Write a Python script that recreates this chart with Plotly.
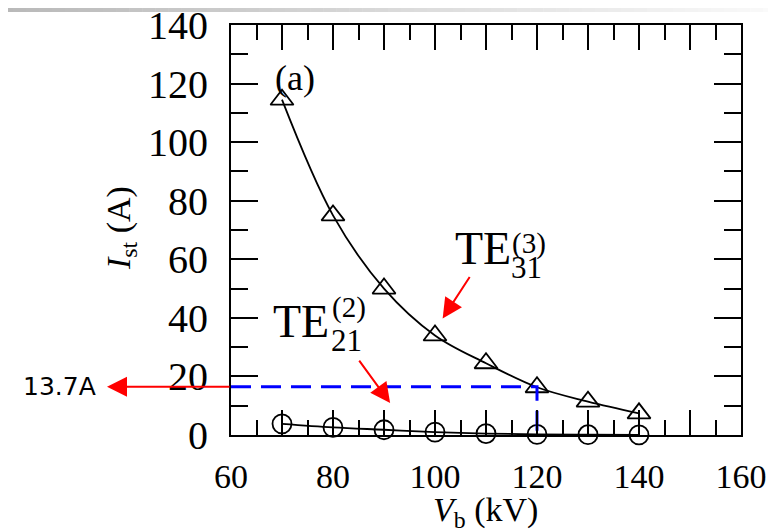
import plotly.graph_objects as go

# ---- data ----
vb = [70, 80, 90, 100, 110, 120, 130, 140]
te31 = [114.5, 75.0, 50.0, 34.0, 24.5, 16.3, 11.4, 7.4]
te21 = [3.8, 2.6, 1.8, 1.0, 0.5, 0.2, 0.1, 0.05]
thr_v = 120
thr_i = 16.5
x_ticks = [60, 70, 80, 90, 100, 110, 120, 130, 140, 150, 160]
x_text = ["60", "", "80", "", "100", "", "120", "", "140", "", "160"]
y_ticks = [0, 20, 40, 60, 80, 100, 120, 140]
y_text = ["0", "20", "40", "60", "80", "100", "120", "140"]

SERIF = "Liberation Serif"
SW, SH = 776, 531          # window
OFF = 8                    # page body margin
W, H = SW - OFF, SH - OFF  # figure size
L, R, T, B = 231, 741, 25, 435  # plot area in window pixels


def px(xp):
    return (xp - L) / (R - L)


def py(yp):
    return (B - yp) / (B - T)


fig = go.Figure()

fig.add_trace(go.Scatter(
    x=vb, y=te31, mode="lines+markers", line=dict(color="black", width=1.8, shape="spline"),
    marker=dict(symbol="triangle-up-open", size=20, color="black", line=dict(width=1.8)),
    cliponaxis=False, showlegend=False))
fig.add_trace(go.Scatter(
    x=vb, y=te21, mode="lines+markers", line=dict(color="black", width=1.8, shape="spline"),
    marker=dict(symbol="circle-open", size=19, color="black", line=dict(width=1.8)),
    cliponaxis=False, showlegend=False))
fig.add_trace(go.Scatter(
    x=[60, thr_v, thr_v], y=[thr_i, thr_i, 0], mode="lines",
    line=dict(color="#0000ff", width=3, dash="20px,10px"),
    cliponaxis=False, showlegend=False))

# decorative gradient bar at top
n = 60
for i in range(n):
    x0 = i * SW / n
    x1 = (i + 1) * SW / n + 0.5
    g = int(185 + (250 - 185) * i / (n - 1))
    fig.add_shape(type="rect", xref="paper", yref="paper",
                  x0=px(x0), x1=px(x1), y0=py(12), y1=py(4),
                  fillcolor=f"rgb({g},{g},{g})", line=dict(width=0), layer="below")

ann = []
C = dict(xanchor="center", yanchor="middle")
# axis titles
ann.append(dict(xref="paper", yref="paper", x=px(121), y=py(228), textangle=-90,
                text="<i>I</i><sub>st</sub> (A)", showarrow=False,
                font=dict(family=SERIF, size=34, color="black"), **C))
ann.append(dict(xref="paper", yref="paper", x=px(485), y=py(512),
                text="<i>V</i><sub>b</sub> (kV)", showarrow=False,
                font=dict(family=SERIF, size=34, color="black"), **C))
# (a)
ann.append(dict(x=72.5, y=121.9, text="(a)", showarrow=False,
                font=dict(family=SERIF, size=36, color="black"), **C))
# TE labels
ann.append(dict(x=73.7, y=38.6, text="TE", showarrow=False,
                font=dict(family=SERIF, size=46, color="black"), **C))
ann.append(dict(x=83.1, y=43.6, text="(2)", showarrow=False,
                font=dict(family=SERIF, size=29, color="black"), **C))
ann.append(dict(x=82.7, y=32.2, text="21", showarrow=False,
                font=dict(family=SERIF, size=31, color="black"), **C))
ann.append(dict(x=109.4, y=63.8, text="TE", showarrow=False,
                font=dict(family=SERIF, size=46, color="black"), **C))
ann.append(dict(x=118.4, y=65.4, text="(3)", showarrow=False,
                font=dict(family=SERIF, size=29, color="black"), **C))
ann.append(dict(x=118.0, y=57.2, text="31", showarrow=False,
                font=dict(family=SERIF, size=31, color="black"), **C))
# red arrows
ann.append(dict(x=91.2, y=10.9, ax=-32, ay=-44, text="", showarrow=True,
                arrowhead=2, arrowsize=2, arrowwidth=2, arrowcolor="#ff0000"))
ann.append(dict(x=101.5, y=39.8, ax=28, ay=-43, text="", showarrow=True,
                arrowhead=2, arrowsize=2, arrowwidth=2, arrowcolor="#ff0000"))
ann.append(dict(xref="paper", yref="y", x=px(107), y=thr_i, ax=124, ay=0, text="",
                showarrow=True, arrowhead=2, arrowsize=2, arrowwidth=2, arrowcolor="#ff0000"))
ann.append(dict(xref="paper", yref="paper", x=px(59), y=py(386), text="13.7A", showarrow=False,
                font=dict(family="DejaVu Sans", size=25, color="black"), **C))

fig.update_layout(
    template="none",
    width=W, height=H,
    margin=dict(l=L - OFF, r=SW - R, t=T - OFF, b=SH - B, autoexpand=False),
    paper_bgcolor="white", plot_bgcolor="white",
    font=dict(family=SERIF, color="black"),
    annotations=ann,
    xaxis=dict(range=[60, 160], tickmode="array", tickvals=x_ticks, ticktext=x_text,
               ticks="inside", ticklen=25, tickwidth=2, tickcolor="black",
               showline=True, linecolor="black", linewidth=2, mirror="ticks",
               showgrid=False, zeroline=False, ticklabelstandoff=10, automargin=False,
               ticklabeloverflow="allow",
               tickfont=dict(family=SERIF, size=34, color="black"),
               minor=dict(dtick=5, tick0=60, ticks="inside", ticklen=15, tickwidth=2,
                          tickcolor="black", showgrid=False)),
    yaxis=dict(range=[0, 140], tickmode="array", tickvals=y_ticks, ticktext=y_text,
               ticks="inside", ticklen=27, tickwidth=2, tickcolor="black",
               showline=True, linecolor="black", linewidth=2, mirror="ticks",
               showgrid=False, zeroline=False, ticklabelstandoff=13, automargin=False,
               ticklabeloverflow="allow",
               tickfont=dict(family=SERIF, size=40, color="black"),
               minor=dict(dtick=10, tick0=0, ticks="inside", ticklen=17, tickwidth=2,
                          tickcolor="black", showgrid=False)),
)

fig.write_html("out.html")
